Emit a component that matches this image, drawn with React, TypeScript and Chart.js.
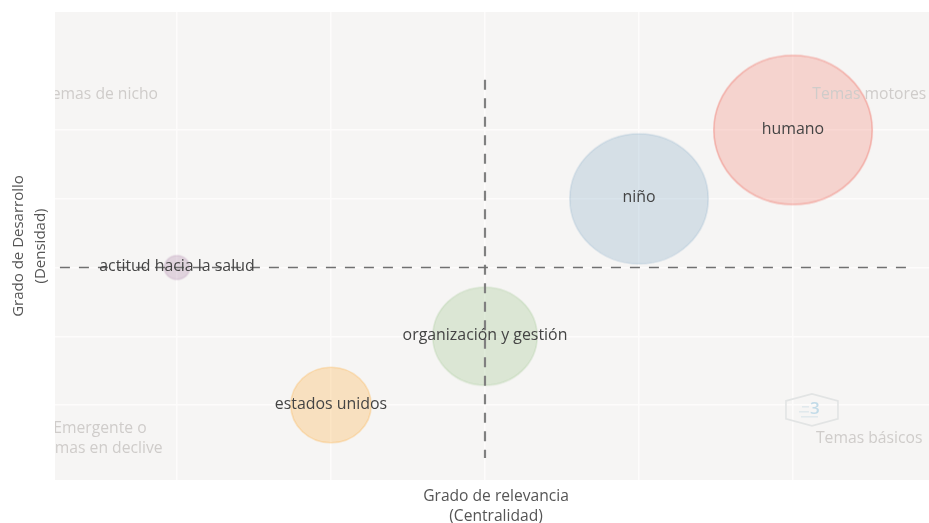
import React, { useEffect, useRef } from "react";
import { Chart, registerables } from "chart.js";

Chart.register(...registerables);

const themes = ["actitud hacia la salud", "estados unidos", "organización y gestión", "niño", "humano"];
const centrality = [1, 2, 3, 4, 5];
const density = [3, 1, 2, 4, 5];
const bubbleSizes = [13.5, 41, 53, 70, 80];

const xGrid = [1, 2, 3, 4, 5];
const yGrid = [1, 2, 3, 4, 5];
const hLineX = [0.24, 5.75];
const hLineY = [3, 3];
const vLineX = [3, 3];
const vLineY = [5.73, 0.23];

const xTitle = ["Grado de relevancia", "(Centralidad)"];
const yTitle = ["Grado de Desarrollo", "(Densidad)"];

const quadrantLabels = [
  { lines: ["Temas de nicho"], x: 0.504, y: 5.52, align: "center" },
  { lines: ["Temas motores"], x: 5.865, y: 5.52, align: "right" },
  { lines: ["Emergente o", "Temas en declive"], x: 0.5, y: 0.665, align: "center" },
  { lines: ["Temas básicos"], x: 5.84, y: 0.51, align: "right" },
];

const fills = [
  "rgba(173,131,170,0.3)",
  "rgba(253,175,70,0.3)",
  "rgba(156,195,140,0.3)",
  "rgba(136,171,200,0.3)",
  "rgba(243,131,120,0.3)",
];
const strokes = [
  "rgba(173,131,170,0.22)",
  "rgba(253,175,70,0.3)",
  "rgba(156,195,140,0.25)",
  "rgba(136,171,200,0.25)",
  "rgba(239,120,108,0.45)",
];

const FONT = '"Open Sans", sans-serif';
const ASPECT = 0.94;

function ellipseSprite(rx: number, fill: string, stroke: string) {
  const c = document.createElement("canvas");
  c.width = Math.ceil(rx * 2 + 4);
  c.height = Math.ceil(rx * 2 * ASPECT + 4);
  const g = c.getContext("2d")!;
  g.beginPath();
  g.ellipse(c.width / 2, c.height / 2, rx - 0.8, (rx - 0.8) * ASPECT, 0, 0, Math.PI * 2);
  g.fillStyle = fill;
  g.fill();
  g.lineWidth = 1.6;
  g.strokeStyle = stroke;
  g.stroke();
  return c;
}

const panelPlugin = {
  id: "panel",
  beforeDraw(chart: any) {
    const { ctx, chartArea: a } = chart;
    ctx.save();
    ctx.fillStyle = "#f6f5f4";
    ctx.fillRect(a.left, a.top, a.right - a.left, a.bottom - a.top);
    ctx.restore();
  },
};

const annotationsPlugin = {
  id: "annotations",
  afterDraw(chart: any) {
    const { ctx, chartArea: a, scales } = chart;
    const sx = scales.x;
    const sy = scales.y;

    ctx.save();
    ctx.beginPath();
    ctx.rect(a.left, a.top, a.right - a.left, a.bottom - a.top);
    ctx.clip();
    ctx.font = `15.7px ${FONT}`;
    ctx.fillStyle = "#cfccca";
    ctx.textBaseline = "middle";
    quadrantLabels.forEach((q) => {
      ctx.textAlign = q.align;
      q.lines.forEach((line, i) => {
        ctx.fillText(line, sx.getPixelForValue(q.x), sy.getPixelForValue(q.y) + i * 20);
      });
    });

    const cx = sx.getPixelForValue(5.123);
    const cy = sy.getPixelForValue(0.93);
    ctx.strokeStyle = "#e2e4e4";
    ctx.lineWidth = 1.6;
    ctx.beginPath();
    ctx.moveTo(cx - 26, cy - 9);
    ctx.lineTo(cx, cy - 16);
    ctx.lineTo(cx + 26, cy - 9);
    ctx.lineTo(cx + 26, cy + 9);
    ctx.lineTo(cx, cy + 16);
    ctx.lineTo(cx - 26, cy + 9);
    ctx.closePath();
    ctx.stroke();
    ctx.font = `600 17px ${FONT}`;
    ctx.fillStyle = "#c2dbe8";
    ctx.textAlign = "center";
    ctx.fillText("3", cx + 3, cy - 1);
    ctx.strokeStyle = "#d5e2e8";
    ctx.lineWidth = 1;
    ctx.beginPath();
    ctx.moveTo(cx - 10, cy - 3);
    ctx.lineTo(cx - 3, cy - 3);
    ctx.moveTo(cx - 13, cy + 2);
    ctx.lineTo(cx - 3, cy + 2);
    ctx.moveTo(cx - 11, cy + 7);
    ctx.lineTo(cx + 6, cy + 7);
    ctx.stroke();
    ctx.restore();

    ctx.save();
    ctx.font = `15.9px ${FONT}`;
    ctx.fillStyle = "#444444";
    ctx.textAlign = "center";
    ctx.textBaseline = "middle";
    const pts = chart.getDatasetMeta(0).data;
    themes.forEach((t, i) => {
      ctx.fillText(t, pts[i].x, pts[i].y - 0.8);
    });
    ctx.restore();

    ctx.save();
    ctx.font = `15.6px ${FONT}`;
    ctx.fillStyle = "#555555";
    ctx.textAlign = "center";
    ctx.textBaseline = "middle";
    xTitle.forEach((line, i) => {
      ctx.fillText(line, a.left + (a.right - a.left) / 2 + 4, a.bottom + 17 + i * 19.3);
    });
    ctx.restore();
  },
};

export default function App() {
  const ref = useRef<HTMLCanvasElement>(null);

  useEffect(() => {
    document.body.style.margin = "0";
    document.body.style.background = "#ffffff";
    const sprites = bubbleSizes.map((s, i) => ellipseSprite(s, fills[i], strokes[i]));
    const chart = new Chart(ref.current!, {
      type: "bubble",
      data: {
        datasets: [
          {
            label: "Temas",
            data: centrality.map((x, i) => ({ x, y: density[i], r: bubbleSizes[i] })),
            pointStyle: (c: any) => sprites[c.dataIndex],
            order: 2,
          } as any,
          {
            type: "line",
            label: "Eje horizontal",
            data: hLineX.map((x, i) => ({ x, y: hLineY[i] })),
            borderColor: "#707070",
            borderWidth: 1.6,
            borderDash: [10, 9],
            pointRadius: 0,
            order: 1,
          } as any,
          {
            type: "line",
            label: "Eje vertical",
            data: vLineX.map((x, i) => ({ x, y: vLineY[i] })),
            borderColor: "#808080",
            borderWidth: 2.2,
            borderDash: [10, 8.5],
            pointRadius: 0,
            order: 1,
          } as any,
        ],
      },
      options: {
        responsive: false,
        animation: false,
        layout: { autoPadding: false, padding: { top: 12, left: 0, right: 0, bottom: 0 } },
        plugins: { legend: { display: false }, tooltip: { enabled: false } },
        scales: {
          x: {
            type: "linear",
            min: 0.208,
            max: 5.883,
            afterBuildTicks: (s: any) => {
              s.ticks = xGrid.map((value) => ({ value }));
            },
            afterFit: (s: any) => {
              s.height = 43;
            },
            ticks: { display: false },
            border: { display: false },
            grid: { color: "#fdfcfb", lineWidth: 1.5, drawTicks: false },
            title: { display: false },
          },
          y: {
            type: "linear",
            min: -0.09,
            max: 6.716,
            afterBuildTicks: (s: any) => {
              s.ticks = yGrid.map((value) => ({ value }));
            },
            afterFit: (s: any) => {
              s.width = 55;
            },
            ticks: { display: false },
            border: { display: false },
            grid: { color: "#fdfcfb", lineWidth: 1.5, drawTicks: false },
            title: {
              display: true,
              text: yTitle,
              color: "#555555",
              font: { family: FONT, size: 15, lineHeight: 1.45 },
              padding: { top: 8, bottom: 0 },
            },
          },
        },
      } as any,
      plugins: [panelPlugin, annotationsPlugin],
    } as any);
    return () => chart.destroy();
  }, []);

  return (
    <canvas
      ref={ref}
      width={929}
      height={523}
      style={{ display: "block", filter: "blur(0.5px)" }}
    />
  );
}
